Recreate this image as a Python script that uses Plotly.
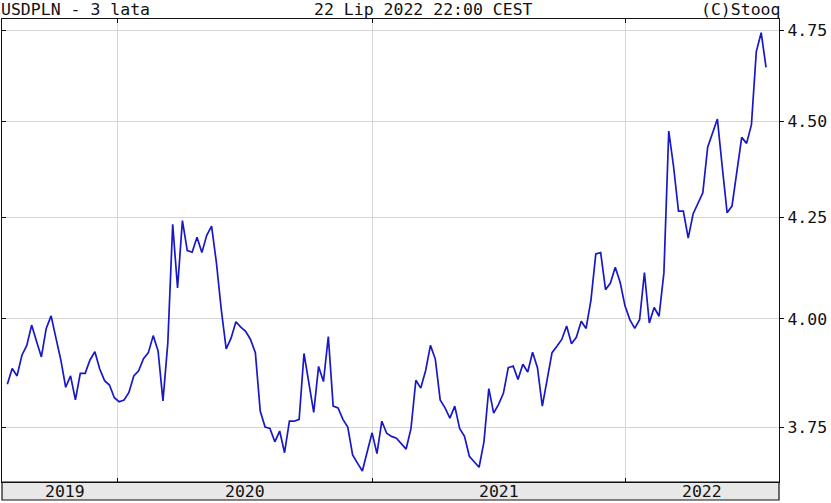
import math
import pandas as pd
import plotly.graph_objects as go

title_left = "USDPLN - 3 lata"
title_mid = "22 Lip 2022 22:00 CEST"
title_right = "(C)Stooq"

start_date = "2019-07-26"
n_weeks = 157
dates = pd.date_range(start_date, periods=n_weeks, freq="7D")

usdpln = [
    3.847, 3.883, 3.866, 3.914, 3.937, 3.985, 3.947, 3.910, 3.977, 4.007,
    3.954, 3.903, 3.840, 3.866, 3.811, 3.872, 3.872, 3.903, 3.922, 3.882,
    3.855, 3.845, 3.816, 3.807, 3.811, 3.828, 3.866, 3.878, 3.906, 3.920,
    3.960, 3.924, 3.809, 3.943, 4.232, 4.074, 4.241, 4.166, 4.162, 4.199,
    4.161, 4.204, 4.227, 4.135, 4.021, 3.929, 3.954, 3.993, 3.980, 3.970,
    3.951, 3.920, 3.786, 3.750, 3.747, 3.717, 3.741, 3.693, 3.763, 3.763,
    3.767, 3.918, 3.850, 3.783, 3.888, 3.853, 3.958, 3.797, 3.793, 3.767,
    3.750, 3.688, 3.670, 3.653, 3.695, 3.737, 3.691, 3.763, 3.736, 3.729,
    3.725, 3.712, 3.701, 3.747, 3.856, 3.838, 3.878, 3.937, 3.905, 3.811,
    3.793, 3.770, 3.797, 3.747, 3.729, 3.685, 3.672, 3.661, 3.717, 3.837,
    3.781, 3.801, 3.826, 3.885, 3.889, 3.858, 3.893, 3.875, 3.921, 3.885,
    3.797, 3.858, 3.920, 3.935, 3.951, 3.983, 3.941, 3.956, 3.994, 3.977,
    4.045, 4.158, 4.161, 4.070, 4.086, 4.125, 4.088, 4.031, 3.998, 3.977,
    3.998, 4.112, 3.990, 4.027, 4.006, 4.111, 4.474, 4.379, 4.265, 4.265,
    4.197, 4.258, 4.284, 4.312, 4.431, 4.470, 4.506, 4.379, 4.261, 4.278,
    4.371, 4.457, 4.441, 4.491, 4.691, 4.744, 4.647,
]

y_ticks = [3.75, 4.00, 4.25, 4.50, 4.75]
y_tick_labels = ["3.75", "4.00", "4.25", "4.50", "4.75"]
year_labels = ["2019", "2020", "2021", "2022"]

x_range = ["2019-07-18 08:00", "2022-08-09 16:00"]
y_range = [3.629, 4.783]

FONT = "DejaVu Sans Mono"
FS = 16.5
LINE = "#1818c8"
GRID = "#d6d6d6"
INK = "#111111"

fig = go.Figure()
fig.add_trace(go.Scatter(x=dates, y=usdpln, mode="lines",
                         line=dict(color=LINE, width=1.7), showlegend=False))
# invisible trace so the mirrored left axis (inner ticks) is drawn
fig.add_trace(go.Scatter(x=[dates[0]], y=[usdpln[0]], yaxis="y2", mode="lines",
                         line=dict(width=0), showlegend=False, hoverinfo="skip"))

year_starts = [pd.Timestamp(f"{y}-01-01") for y in year_labels[1:]]

fig.update_layout(
    width=831, height=503,
    margin=dict(l=2, r=52, t=19, b=21),
    paper_bgcolor="white", plot_bgcolor="white",
    font=dict(family=FONT, size=FS, color=INK),
    xaxis=dict(type="date", range=x_range, tickvals=year_starts,
               showticklabels=False, showgrid=True, gridcolor=GRID, gridwidth=1,
               ticks="inside", ticklen=4, tickcolor=INK,
               showline=True, linecolor=INK, linewidth=1.2, mirror="ticks",
               zeroline=False),
    yaxis=dict(type="log", side="right",
               range=[math.log10(y_range[0]), math.log10(y_range[1])],
               tickvals=y_ticks, ticktext=y_tick_labels,
               showgrid=True, gridcolor=GRID, gridwidth=1,
               ticks="outside", ticklen=4, tickcolor=INK,
               showline=True, linecolor=INK, linewidth=1.2, mirror=True,
               tickfont=dict(family=FONT, size=FS, color=INK),
               automargin=False, zeroline=False),
    yaxis2=dict(type="log", side="left", overlaying="y",
                range=[math.log10(y_range[0]), math.log10(y_range[1])],
                tickvals=y_ticks, showticklabels=False, showgrid=False,
                ticks="inside", ticklen=4, tickcolor=INK, zeroline=False,
                showline=False),
)

band_h = 18 / (503 - 19 - 21)
fig.add_shape(type="rect", xref="paper", yref="paper", x0=0, x1=1,
              y0=-band_h, y1=0, fillcolor="#e8e8e8",
              line=dict(color=INK, width=1.2), layer="below")

first_month = dates[0] + pd.offsets.MonthBegin(1)
rng_end = pd.Timestamp(x_range[1])
for lbl in year_labels:
    ys = max(pd.Timestamp(f"{lbl}-01-01"), first_month)
    ye = min(pd.Timestamp(f"{int(lbl)+1}-01-01"), rng_end)
    mid = ys + (ye - ys) / 2
    fig.add_annotation(x=mid, xref="x", y=-band_h / 2, yref="paper",
                       text=lbl, showarrow=False, yanchor="middle",
                       font=dict(family=FONT, size=FS, color=INK))

fig.add_annotation(x=0, xref="paper", xshift=-3, y=1, yref="paper", yshift=-2,
                   text=title_left, showarrow=False, xanchor="left", yanchor="bottom",
                   font=dict(family=FONT, size=FS, color=INK))
fig.add_annotation(x=0.543, xref="paper", y=1, yref="paper", yshift=-2,
                   text=title_mid, showarrow=False, xanchor="center", yanchor="bottom",
                   font=dict(family=FONT, size=FS, color=INK))
fig.add_annotation(x=1, xref="paper", xshift=3, y=1, yref="paper", yshift=-2,
                   text=title_right, showarrow=False, xanchor="right", yanchor="bottom",
                   font=dict(family=FONT, size=FS, color=INK))

fig.write_html("out.html",
               config={"displayModeBar": False},
               post_script="document.body.style.margin='0';document.body.style.padding='0';"
                           "document.documentElement.style.overflow='hidden';")
